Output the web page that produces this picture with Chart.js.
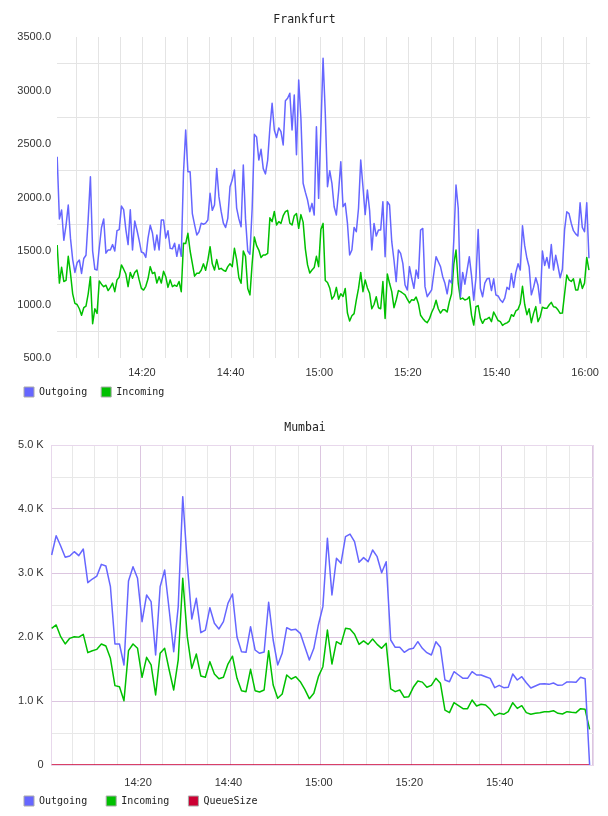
<!DOCTYPE html>
<html>
<head>
<meta charset="utf-8">
<title>Frankfurt / Mumbai traffic</title>
<script src="https://cdn.jsdelivr.net/npm/chart.js@4.4.1/dist/chart.umd.min.js"></script>
<style>
  body { margin: 0; background: #fff; }
  canvas { display: block; }
</style>
</head>
<body>
<canvas id="frankfurtChart" width="608" height="408"></canvas>
<canvas id="mumbaiChart" width="608" height="408"></canvas>
<script>
// Sample times are minutes after 14:00
const frankfurtStartMin = 0.64;
const frankfurtStepMin = 0.5;

const frankfurtOutgoing = [
    2381,1800,1883,1600,1740,1930,1620,1420,1300,1390,
    1416,1290,1430,1460,1800,2194,1500,1330,1322,1530,
    1720,1800,1480,1510,1510,1560,1500,1690,1700,1920,
    1886,1700,1560,1886,1510,1780,1696,1600,1490,1482,
    1440,1620,1740,1668,1510,1650,1510,1790,1790,1620,
    1690,1525,1520,1573,1450,1560,1450,2226,2631,2241,
    2241,1850,1746,1650,1680,1760,1750,1760,1790,2039,
    1880,1930,2272,2008,1870,1760,1720,1805,2100,2163,
    2257,1900,1800,1727,2303,1800,1500,
    1470,1900,2590,2565,2350,2450,2270,2220,2350,2650,
    2880,2631,2560,2650,2615,2491,2905,2927,2974,2631,
    2958,2400,3098,2740,2133,2050,1976,1867,1945,1836,
    2662,1992,2631,3301,2787,2101,2250,2132,1914,1836,
    2054,2335,1914,1945,1760,1463,1509,1720,1680,1900,
    2350,2101,1840,2070,1880,1509,1758,1640,1696,1696,
    1961,1447,1961,1930,1587,1416,1214,1509,1478,1385,
    1182,1136,1354,1245,1151,1322,1245,1696,1711,1167,
    1073,1105,1136,1292,1447,
    1400,1354,1260,1198,1100,1230,1200,1600,2117,1900,
    1073,1300,1190,1322,1447,1270,1040,1250,1700,1150,
    1073,1200,1240,1245,1130,1240,1089,1080,1042,1020,
    1060,1160,1140,1290,1160,1300,1380,1322,1735,1550,
    1432,1350,1090,1160,1250,1180,1011,1500,1365,1440,
    1340,1560,1322,1460,1360,1250,1330,1700,1867,1850,
    1760,1690,1660,1640,1950,1720,1680,1950,1432
];

const frankfurtIncoming = [
    1556,1200,1348,1215,1225,1450,1292,1100,1011,1000,
    960,900,970,985,1100,1260,820,960,917,1220,
    1190,1167,1180,1130,1160,1200,1120,1230,1255,1370,
    1330,1285,1167,1300,1245,1300,1322,1230,1151,1135,
    1170,1240,1354,1290,1300,1200,1260,1200,1310,1260,
    1160,1230,1167,1182,1170,1215,1120,1572,1570,1665,
    1500,1385,1265,1292,1292,1320,1380,1320,1414,1540,
    1380,1322,1420,1330,1338,1320,1310,1354,1380,1354,
    1525,1420,1250,1198,1500,1450,1150,
    1090,1385,1630,1550,1509,1440,1463,1463,1478,1810,
    1774,1870,1743,1774,1758,1830,1867,1880,1760,1743,
    1830,1850,1712,1840,1770,1520,1370,1295,1322,1345,
    1450,1354,1700,1758,1225,1205,1155,1050,1080,1160,
    1050,1100,1075,1150,920,845,895,915,1040,1150,
    1300,1120,1230,1155,1105,960,1000,1073,970,960,
    1214,870,1285,1198,1120,970,1042,1130,1120,1105,
    1090,1050,1015,1045,1040,1070,1010,900,870,845,
    830,865,925,970,1040,
    960,920,950,950,930,1027,1100,1380,1509,1198,
    1050,1060,1042,1050,1073,900,808,979,990,870,
    824,860,865,880,840,930,890,850,840,805,
    820,828,845,905,890,940,955,1010,1170,1000,
    905,960,830,917,980,840,886,975,965,964,
    995,1020,979,975,950,917,920,1100,1276,1230,
    1215,1240,1136,1136,1240,1150,1200,1440,1322
];

const mumbaiStartMin = 0.45;
const mumbaiStepMin = 1;

const mumbaiOutgoing = [
    3281,3583,3422,3245,3266,3333,3271,3375,2849,2906,
    2953,3135,3109,2786,1891,1891,1563,2875,3099,2917,
    2240,2656,2552,1719,2786,3047,2422,1771,2474,4193,
    3151,2281,2604,2068,2109,2458,2214,2125,2240,2526,
    2672,2000,1771,1761,2161,1797,1745,1766,2542,1953,
    1563,1745,2146,2109,2120,2057,1849,1641,1823,2188,
    2474,3542,2656,3229,3151,3568,3609,3490,3167,3240,
    3177,3359,3255,3005,3177,1953,1839,1839,1761,1807,
    1823,1927,1823,1755,1719,1927,1839,1328,1302,1458,
    1406,1354,1354,1458,1406,1406,1380,1354,1208,1245,
    1208,1214,1422,1328,1380,1286,1203,1234,1266,1271,
    1260,1281,1245,1250,1297,1297,1292,1370,1349,0
];

const mumbaiIncoming = [
    2135,2188,2005,1891,1979,2005,1998,2042,1755,1786,
    1807,1891,1859,1667,1240,1224,1005,1786,1891,1823,
    1370,1682,1563,1094,1745,1823,1484,1172,1641,2917,
    2005,1510,1734,1391,1370,1615,1422,1349,1370,1578,
    1700,1354,1161,1146,1495,1161,1141,1172,1786,1250,
    1042,1109,1406,1344,1380,1302,1182,1036,1120,1380,
    1536,2109,1578,1927,1885,2135,2125,2042,1885,1938,
    1885,1969,1885,1823,1901,1188,1146,1172,1057,1068,
    1214,1313,1295,1214,1245,1354,1276,859,818,974,
    927,880,880,1016,922,948,938,870,771,807,
    792,833,974,885,927,818,792,807,818,833,
    833,849,807,797,833,823,818,880,870,557
];

const mumbaiQueueSize = [
    0,0,0,0,0,0,0,0,0,0, 0,0,0,0,0,0,0,0,0,0,
    0,0,0,0,0,0,0,0,0,0, 0,0,0,0,0,0,0,0,0,0,
    0,0,0,0,0,0,0,0,0,0, 0,0,0,0,0,0,0,0,0,0,
    0,0,0,0,0,0,0,0,0,0, 0,0,0,0,0,0,0,0,0,0,
    0,0,0,0,0,0,0,0,0,0, 0,0,0,0,0,0,0,0,0,0,
    0,0,0,0,0,0,0,0,0,0, 0,0,0,0,0,0,0,0,0,0
];

// x tick labels (minutes after 14:00 -> text)
const timeTickMinutes = [20, 40, 60, 80, 100, 120];
const timeTickLabels = ['14:20', '14:40', '15:00', '15:20', '15:40', '16:00'];

// y tick labels for Mumbai
const mumbaiYTicks = [0, 1000, 2000, 3000, 4000, 5000];
const mumbaiYLabels = ['0', '1.0 K', '2.0 K', '3.0 K', '4.0 K', '5.0 K'];

const OUT_COLOR = 'rgb(102,102,255)';
const IN_COLOR = 'rgb(0,192,0)';
const QUEUE_COLOR = 'rgb(204,0,51)';
const TICK_FONT = { family: 'Liberation Sans', size: 11 };
const MONO = 'DejaVu Sans Mono';

function toPoints(values, startMin, stepMin) {
    return values.map((v, i) => ({ x: startMin + i * stepMin, y: v }));
}

function lineDataset(label, values, startMin, stepMin, color) {
    return {
        label: label,
        data: toPoints(values, startMin, stepMin),
        borderColor: color,
        backgroundColor: color,
        borderWidth: 1.5,
        borderJoinStyle: 'round',
        pointRadius: 0,
        tension: 0,
        fill: false,
    };
}

function timeLabel(value, lastMinute) {
    const k = timeTickMinutes.indexOf(value);
    return (k >= 0 && value <= lastMinute) ? timeTickLabels[k] : '';
}

function titleOptions(text) {
    return {
        display: true,
        text: text,
        color: '#222',
        font: { family: MONO, size: 11.5, weight: 'normal', lineHeight: '14px' },
        padding: { top: 13, bottom: 10 },
    };
}

// padding sets the gap above the boxes; extra gap between items comes from trailing blanks
function legendOptions(padding, extraGap) {
    return {
        position: 'bottom',
        align: 'start',
        labels: {
            boxWidth: 10,
            boxHeight: 10,
            padding: padding,
            color: '#222',
            font: { family: MONO, size: 10 },
            // coloured square with a grey frame, like the original
            generateLabels: chart => Chart.defaults.plugins.legend.labels.generateLabels(chart)
                .map(item => Object.assign(item, {
                    text: item.text + extraGap,
                    strokeStyle: '#aaaaaa',
                    lineWidth: 1,
                })),
        },
    };
}

// light frame around the plot area (Mumbai chart only)
const plotFrame = {
    id: 'plotFrame',
    beforeDatasetsDraw(chart, args, opts) {
        if (!opts.color) return;
        const a = chart.chartArea;
        const ctx = chart.ctx;
        ctx.save();
        ctx.strokeStyle = opts.color;
        ctx.lineWidth = 1;
        ctx.strokeRect(Math.round(a.left) + 0.5, Math.round(a.top) + 0.5,
            Math.round(a.right - a.left), Math.round(a.bottom - a.top));
        ctx.restore();
    }
};

// Frankfurt
new Chart(document.getElementById('frankfurtChart'), {
    type: 'line',
    data: {
        datasets: [
            lineDataset('Outgoing', frankfurtOutgoing, frankfurtStartMin, frankfurtStepMin, OUT_COLOR),
            lineDataset('Incoming', frankfurtIncoming, frankfurtStartMin, frankfurtStepMin, IN_COLOR),
        ],
    },
    options: {
        responsive: false,
        animation: false,
        layout: { padding: { left: 16, right: 15, top: 0, bottom: 1 } },
        plugins: {
            title: titleOptions('Frankfurt'),
            legend: legendOptions(8, '\u00a0'),
            tooltip: { enabled: false },
        },
        scales: {
            x: {
                type: 'linear',
                min: 0.6,
                max: 120.9,
                grid: { color: '#e4e4e4', drawTicks: false },
                border: { display: false },
                ticks: {
                    stepSize: 5, includeBounds: false, autoSkip: false, maxRotation: 0,
                    padding: 8, labelOffset: -1, color: '#333', font: TICK_FONT,
                    callback: v => timeLabel(v, 120),
                },
                afterFit: scale => { scale.height = 21; },
            },
            y: {
                min: 500,
                max: 3500,
                grid: {
                    color: c => (c.tick && c.tick.value % 500 === 0) ? 'rgba(0,0,0,0)' : '#e4e4e4',
                    drawTicks: false,
                },
                border: { display: false },
                ticks: {
                    stepSize: 250, autoSkip: false, padding: 6, color: '#333', font: TICK_FONT,
                    callback: v => v % 500 === 0 ? v.toFixed(1) : '',
                },
                afterFit: scale => { scale.width = 41; },
            },
        },
    },
});

// Mumbai
new Chart(document.getElementById('mumbaiChart'), {
    type: 'line',
    data: {
        datasets: [
            lineDataset('Outgoing', mumbaiOutgoing, mumbaiStartMin, mumbaiStepMin, OUT_COLOR),
            lineDataset('Incoming', mumbaiIncoming, mumbaiStartMin, mumbaiStepMin, IN_COLOR),
            lineDataset('QueueSize', mumbaiQueueSize, mumbaiStartMin, mumbaiStepMin, QUEUE_COLOR),
        ],
    },
    plugins: [plotFrame],
    options: {
        responsive: false,
        animation: false,
        layout: { padding: { left: 17, right: 15, top: 0, bottom: 0 } },
        plugins: {
            title: titleOptions('Mumbai'),
            legend: legendOptions(7, '\u00a0\u00a0'),
            tooltip: { enabled: false },
            plotFrame: { color: '#e8d8ec' },
        },
        scales: {
            x: {
                type: 'linear',
                min: 0.24,
                max: 120.2,
                grid: {
                    color: c => (c.tick && c.tick.value % 20 === 0) ? '#dcc6e0' : '#e8e8e8',
                    drawTicks: false,
                },
                border: { display: false },
                ticks: {
                    stepSize: 5, includeBounds: false, autoSkip: false, maxRotation: 0,
                    padding: 11, labelOffset: -2, color: '#333', font: TICK_FONT,
                    callback: v => timeLabel(v, 100),
                },
                afterFit: scale => { scale.height = 24; },
            },
            y: {
                min: 0,
                max: 5000,
                grid: {
                    color: c => {
                        const v = c.tick ? c.tick.value : -1;
                        if (v === 0 || v === 5000) return 'rgba(0,0,0,0)';
                        return v % 1000 === 0 ? '#dcc6e0' : '#e8e8e8';
                    },
                    drawTicks: false,
                },
                border: { display: false },
                ticks: {
                    stepSize: 500, autoSkip: false, padding: 7, color: '#333', font: TICK_FONT,
                    callback: v => {
                        const k = mumbaiYTicks.indexOf(v);
                        return k >= 0 ? mumbaiYLabels[k] : '';
                    },
                },
                afterFit: scale => { scale.width = 33.7; },
            },
        },
    },
});
</script>
</body>
</html>
